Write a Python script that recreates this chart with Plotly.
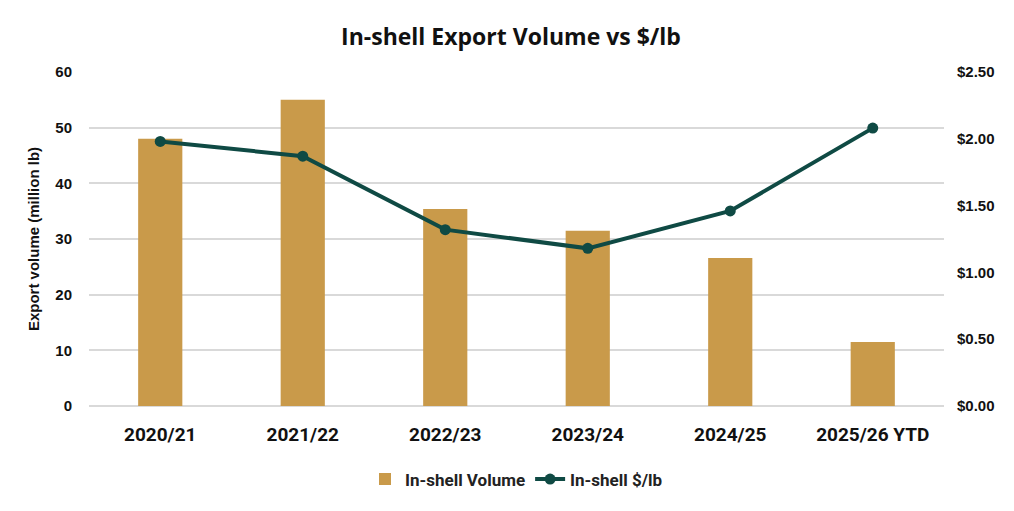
import plotly.graph_objects as go

seasons = ["2020/21", "2021/22", "2022/23", "2023/24", "2024/25", "2025/26 YTD"]
volume = [48.0, 55.0, 35.4, 31.5, 26.6, 11.5]
price = [1.98, 1.87, 1.32, 1.18, 1.46, 2.08]

bar_color = "#C99A4A"
line_color = "#0F4A44"
grid = "#D9D9D9"

fig = go.Figure()
fig.add_trace(go.Bar(x=seasons, y=volume, name="In-shell Volume",
                     marker=dict(color=bar_color, line=dict(width=0))))
fig.add_trace(go.Scatter(x=seasons, y=price, name="In-shell $/lb", yaxis="y2",
                         mode="lines+markers",
                         line=dict(color=line_color, width=4),
                         marker=dict(color=line_color, size=11)))

# page body adds an 8px offset, so the figure is drawn slightly smaller
fig.update_layout(
    width=1006, height=503,
    paper_bgcolor="white", plot_bgcolor="white",
    margin=dict(l=81, r=70, t=64, b=105),
    title=dict(text="In-shell Export Volume vs $/lb", x=0.5, xanchor="center",
               y=0.942, yanchor="middle",
               font=dict(family="Open Sans, sans-serif", size=23, color="#111", weight="bold")),
    bargap=0.69,
    showlegend=True,
    legend=dict(orientation="h", x=0.5, xanchor="center", y=-0.22, yanchor="middle",
                font=dict(family="Roboto, sans-serif", size=17,
                          color="#222", weight="bold")),
    xaxis=dict(showgrid=False, showline=False, ticks="", automargin=False,
               ticklabelstandoff=15,
               tickfont=dict(family="Roboto, sans-serif", size=19,
                             color="#111", weight="bold")),
    yaxis=dict(range=[0, 60], dtick=10, showgrid=True, gridcolor=grid, gridwidth=2,
               zeroline=True, zerolinecolor=grid, zerolinewidth=2,
               ticks="", ticklabelstandoff=16, automargin=False,
               tickfont=dict(family="Liberation Sans, Arial, sans-serif", size=15,
                             color="#111", weight="bold"),
               title=dict(text="Export volume (million lb)", standoff=12,
                          font=dict(family="Liberation Sans, Arial, sans-serif", size=15,
                                    color="#111", weight="bold"))),
    yaxis2=dict(range=[0, 2.5], dtick=0.5, overlaying="y", side="right",
                showgrid=False, zeroline=False, ticks="", tickprefix="$",
                tickformat=".2f", ticklabelstandoff=12, automargin=False,
                tickfont=dict(family="Liberation Sans, Arial, sans-serif", size=15,
                              color="#111", weight="bold")),
)

fig.write_html("out.html")
